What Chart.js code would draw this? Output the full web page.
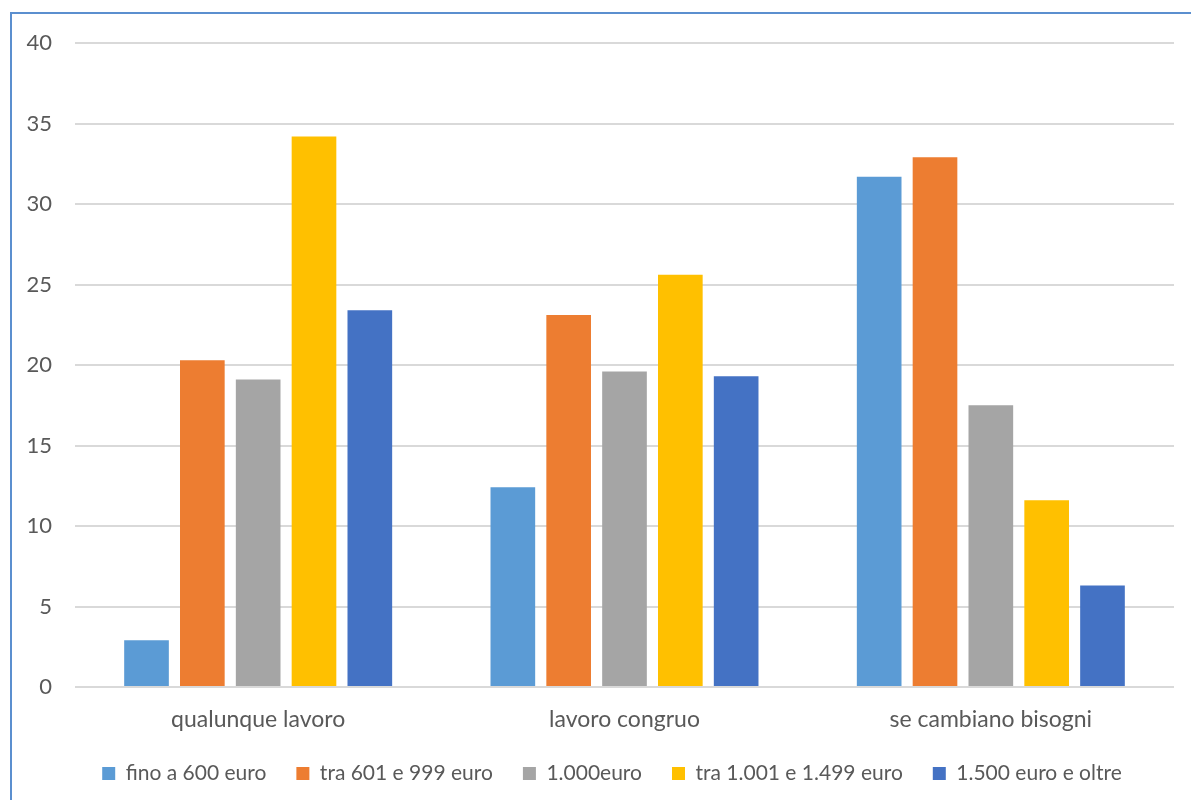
<!DOCTYPE html>
<html>
<head>
<meta charset="utf-8">
<script src="https://cdn.jsdelivr.net/npm/chart.js@4.4.0/dist/chart.umd.min.js"></script>
<style>
  html, body { margin: 0; padding: 0; background: #fff; }
  #wrap { position: relative; width: 1191px; height: 800px; overflow: hidden; }
  #frame {
    position: absolute; left: 10px; top: 12px; width: 1200px; height: 820px;
    border: 2px solid #5b8fcf; box-sizing: border-box; pointer-events: none;
  }
</style>
</head>
<body>
<div id="wrap">
  <canvas id="chart" width="1191" height="820"></canvas>
  <div id="frame"></div>
</div>
<script>
// categorie e fasce di reddito
const categories = ["qualunque lavoro", "lavoro congruo", "se cambiano bisogni"];
const seriesNames = ["fino a 600 euro", "tra 601 e 999 euro", "1.000euro", "tra 1.001 e 1.499 euro", "1.500 euro e oltre"];
const seriesColors = ["#5B9BD5", "#ED7D31", "#A5A5A5", "#FFC000", "#4472C4"];

const fino600 = [2.9, 12.4, 31.7];
const tra601_999 = [20.3, 23.1, 32.9];
const mille = [19.1, 19.6, 17.5];
const tra1001_1499 = [34.2, 25.6, 11.6];
const oltre1500 = [23.4, 19.3, 6.3];

const yTicks = [0, 5, 10, 15, 20, 25, 30, 35, 40];

const FONT = "Lato, 'Open Sans', sans-serif";
const TEXT = "#595959";

const seriesData = [fino600, tra601_999, mille, tra1001_1499, oltre1500];

// sposta la legenda un po' a destra, centrata sull'area del grafico
const legendShift = {
    id: "legendShift",
    afterLayout(chart) {
        chart.legend.left += 25;
        chart.legend.right += 25;
    }
};

new Chart(document.getElementById("chart"), {
    type: "bar",
    data: {
        labels: categories,
        datasets: seriesNames.map((name, i) => ({
            label: name,
            data: seriesData[i],
            backgroundColor: seriesColors[i],
            borderWidth: 0,
            categoryPercentage: 0.762,
            barPercentage: 0.8
        }))
    },
    options: {
        responsive: false,
        animation: false,
        layout: { padding: { top: 43, right: 17, bottom: 26, left: 0 } },
        plugins: {
            tooltip: { enabled: false },
            legend: {
                position: "bottom",
                labels: {
                    boxWidth: 13,
                    boxHeight: 13,
                    padding: 30,
                    color: TEXT,
                    font: { family: FONT, size: 21 }
                }
            }
        },
        scales: {
            x: {
                grid: { display: false, drawTicks: false },
                border: { display: false },
                ticks: { color: TEXT, padding: 19, font: { family: FONT, size: 23 } },
                afterFit: (scale) => { scale.height = 46; }
            },
            y: {
                min: yTicks[0],
                max: yTicks[yTicks.length - 1],
                grid: { color: "#d9d9d9", lineWidth: 2, drawTicks: false },
                border: { display: false },
                afterBuildTicks: (scale) => { scale.ticks = yTicks.map(v => ({ value: v })); },
                ticks: { color: TEXT, padding: 23, font: { family: FONT, size: 22 } },
                afterFit: (scale) => { scale.width = 75; }
            }
        }
    },
    plugins: [legendShift]
});
</script>
</body>
</html>
